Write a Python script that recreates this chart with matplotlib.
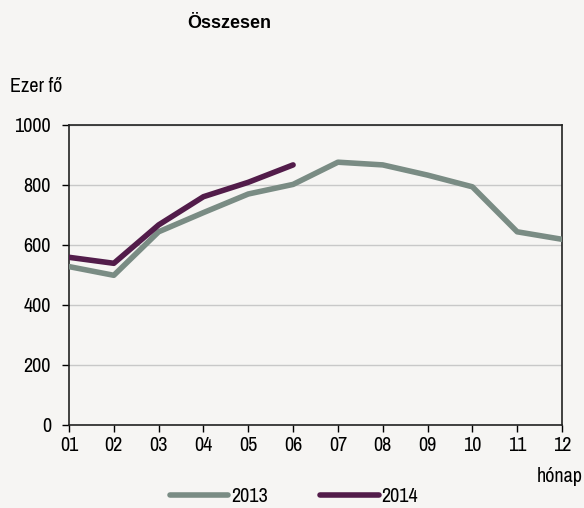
import matplotlib.pyplot as plt
from matplotlib.lines import Line2D
from matplotlib import font_manager
from matplotlib.font_manager import FontProperties

# adatok
honapok = ["01", "02", "03", "04", "05", "06", "07", "08", "09", "10", "11", "12"]
ev2013 = [528, 499, 644, 708, 770, 802, 876, 867, 833, 794, 644, 619]
ev2014 = [559, 539, 667, 761, 809, 867]

bg = "#f6f5f3"
c2013 = "#7a8c84"
c2014 = "#521c4a"

# keskeny betűtípus, ha van
elerheto = {f.name for f in font_manager.fontManager.ttflist}
if "Liberation Sans Narrow" in elerheto:
    keskeny = ["Liberation Sans Narrow"]
else:
    keskeny = [n for n in sorted(elerheto) if "Narrow" in n or "Condensed" in n][:1]
plt.rcParams['font.family'] = keskeny + ['Liberation Sans', 'DejaVu Sans']
fs = 14.5 if keskeny else 13.5

# félkövér cím: ha a keskeny családnak nincs bold változata, Liberation Sans
cim_csalad = keskeny + ['Liberation Sans', 'DejaVu Sans']
if keskeny:
    f = font_manager.findfont(FontProperties(family=keskeny[0], weight="bold"))
    if "bold" not in f.lower():
        cim_csalad = ['Liberation Sans', 'DejaVu Sans']

fig = plt.figure(figsize=(5.84, 5.08), dpi=100, facecolor=bg)
ax = fig.add_axes([69/584, 83/508, 493/584, 300/508], facecolor=bg)

x = list(range(len(honapok)))
ax.plot(x, ev2013, color=c2013, lw=4, solid_capstyle="round", solid_joinstyle="round", zorder=3)
ax.plot(x[:len(ev2014)], ev2014, color=c2014, lw=4, solid_capstyle="round", solid_joinstyle="round", zorder=4)

ax.set_xlim(0, len(honapok) - 1)
ax.set_ylim(0, 1000)
ax.set_yticks([0, 200, 400, 600, 800, 1000])
ax.set_xticks(x)
ax.set_xticklabels(honapok)
ax.tick_params(axis="both", labelsize=fs, length=5, width=1, colors="black", direction="out", pad=3)
ax.tick_params(axis="y", pad=8)
for s in ax.spines.values():
    s.set_color("#222222")
    s.set_linewidth(1.2)
ax.yaxis.grid(True, color="#c8c8c8", lw=1)
ax.set_axisbelow(True)

fig.text(229/584, 1 - 24/508, "Összesen", ha="center", va="center", fontsize=fs if cim_csalad[0] == keskeny[0:1] else 13,
         fontweight="bold", family=cim_csalad)
fig.text(10/584, 1 - 87/508, "Ezer fő", ha="left", va="center", fontsize=fs)
fig.text(583/584, 1 - 477/508, "hónap", ha="right", va="center", fontsize=fs)

handles = [Line2D([], [], color=c2013, lw=4, solid_capstyle="round"),
           Line2D([], [], color=c2014, lw=4, solid_capstyle="round")]
fig.legend(handles, ["2013", "2014"], loc="center", bbox_to_anchor=(294/584, 1 - 497/508),
           ncol=2, frameon=False, fontsize=fs, handlelength=2.9, handletextpad=0.15,
           columnspacing=2.6, borderpad=0)

fig.savefig("out.png", dpi=100, facecolor=bg)
